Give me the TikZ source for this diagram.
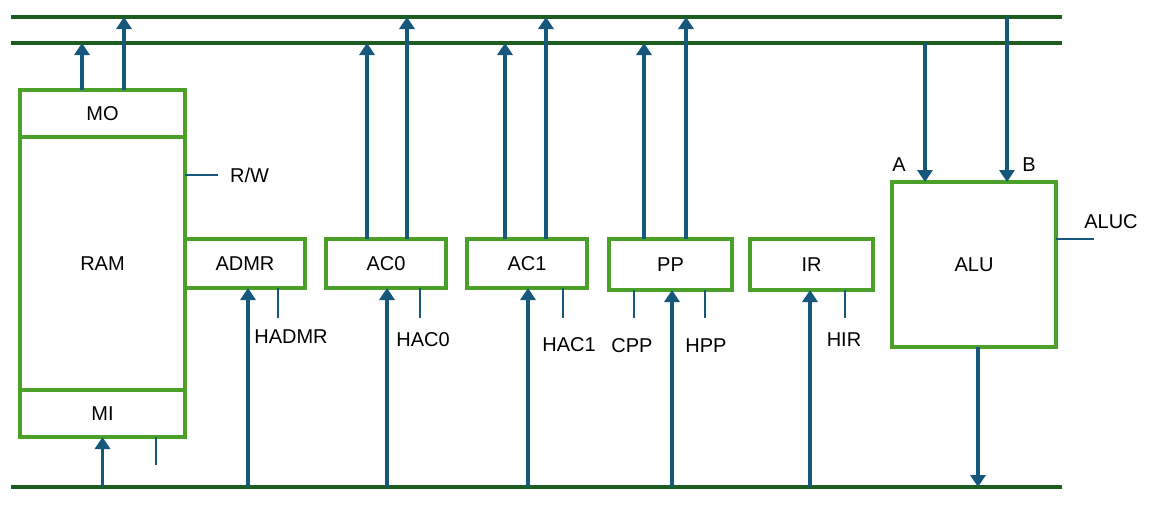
\documentclass[tikz,border=0pt]{standalone}
\usepackage{fontspec}
\setmainfont{Liberation Sans}
\usetikzlibrary{arrows.meta}
\usetikzlibrary{positioning}
\definecolor{busgreen}{HTML}{1D5E20}
\definecolor{boxgreen}{HTML}{4BA02A}
\definecolor{wireblue}{HTML}{15587B}
\tikzset{
  reg/.style={draw=boxgreen, line width=3.2pt, inner sep=0pt, outer sep=0pt,
    minimum width=120pt, minimum height=49pt, font=\fontsize{20}{23}\selectfont},
  bus/.style={draw=busgreen, line width=3.5pt},
  data/.style={draw=wireblue, line width=3.4pt, -{Triangle[length=12pt,width=15pt]}},
  ctrl/.style={draw=wireblue, line width=1.8pt},
  lbl/.style={font=\fontsize{20}{23}\selectfont, inner sep=0pt}
}
\begin{document}
\begin{tikzpicture}[x=1pt,y=-1pt]
  \useasboundingbox (0,0) rectangle (1149,509);
  % buses
  \coordinate (topL) at (11,17);  \coordinate (topR) at (1062,17);
  \coordinate (midL) at (11,43);  \coordinate (midR) at (1062,43);
  \coordinate (botL) at (11,487); \coordinate (botR) at (1062,487);
  \draw[bus] (topL) -- (topR);
  \draw[bus] (midL) -- (midR);
  \draw[bus] (botL) -- (botR);
  % memory
  \node[reg, minimum width=165pt, minimum height=47pt] (mo) at (102.5,113.5) {MO};
  \node[reg, minimum width=165pt, minimum height=253pt, below=0pt of mo] (ram) {RAM};
  \node[reg, minimum width=165pt, minimum height=47pt, below=0pt of ram] (mi) {MI};
  % registers
  \node[reg] (admr) at (245,263.5) {ADMR};
  \node[reg] (ac0) at (386,263.5) {AC0};
  \node[reg] (ac1) at (527,263.5) {AC1};
  \node[reg, minimum width=123pt, minimum height=51pt] (pp) at (670.5,264.5) {PP};
  \node[reg, minimum width=123pt, minimum height=51pt] (ir) at (811.5,264.5) {IR};
  \node[reg, minimum width=164pt, minimum height=165pt] (alu) at (974,264.5) {ALU};
  % outputs to the upper buses
  \draw[data] ([xshift=-20.5pt]mo.north) -- ([xshift=-20.5pt]mo.north |- midL);
  \draw[data] ([xshift=21.5pt]mo.north) -- ([xshift=21.5pt]mo.north |- topL);
  \draw[data] ([xshift=-19pt]ac0.north) -- ([xshift=-19pt]ac0.north |- midL);
  \draw[data] ([xshift=21pt]ac0.north) -- ([xshift=21pt]ac0.north |- topL);
  \draw[data] ([xshift=-22pt]ac1.north) -- ([xshift=-22pt]ac1.north |- midL);
  \draw[data] ([xshift=19pt]ac1.north) -- ([xshift=19pt]ac1.north |- topL);
  \draw[data] ([xshift=-26.5pt]pp.north) -- ([xshift=-26.5pt]pp.north |- midL);
  \draw[data] ([xshift=15.5pt]pp.north) -- ([xshift=15.5pt]pp.north |- topL);
  % ALU inputs and output
  \draw[data] ([xshift=-49pt]alu.north |- midL) -- ([xshift=-49pt]alu.north);
  \draw[data] ([xshift=33pt]alu.north |- topL) -- ([xshift=33pt]alu.north);
  \draw[data] ([xshift=4pt]alu.south) -- ([xshift=4pt]alu.south |- botL);
  % inputs from the lower bus
  \draw[data] (mi.south |- botL) -- (mi.south);
  \draw[data] ([xshift=3pt]admr.south |- botL) -- ([xshift=3pt]admr.south);
  \draw[data] ([xshift=1pt]ac0.south |- botL) -- ([xshift=1pt]ac0.south);
  \draw[data] ([xshift=1pt]ac1.south |- botL) -- ([xshift=1pt]ac1.south);
  \draw[data] ([xshift=1.5pt]pp.south |- botL) -- ([xshift=1.5pt]pp.south);
  \draw[data] ([xshift=-1.5pt]ir.south |- botL) -- ([xshift=-1.5pt]ir.south);
  % control lines
  \coordinate (rw) at (218,175);
  \draw[ctrl] (ram.east |- rw) -- (rw);
  \node[lbl, anchor=west] (rwlbl) at (230,175) {R/W};
  \coordinate (mitick) at (156,465);
  \draw[ctrl] (mi.south -| mitick) -- (mitick);
  \coordinate (hadmr) at (278,318);
  \draw[ctrl] (admr.south -| hadmr) -- (hadmr);
  \node[lbl] (hadmrlbl) at (291,337) {HADMR};
  \coordinate (hac0) at (420,318);
  \draw[ctrl] (ac0.south -| hac0) -- (hac0);
  \node[lbl] (hac0lbl) at (423,340) {HAC0};
  \coordinate (hac1) at (563,318);
  \draw[ctrl] (ac1.south -| hac1) -- (hac1);
  \node[lbl] (hac1lbl) at (569,345) {HAC1};
  \coordinate (cpp) at (634,318);
  \draw[ctrl] (pp.south -| cpp) -- (cpp);
  \node[lbl] (cpplbl) at (632,346) {CPP};
  \coordinate (hpp) at (705,318);
  \draw[ctrl] (pp.south -| hpp) -- (hpp);
  \node[lbl] (hpplbl) at (706,346) {HPP};
  \coordinate (hir) at (845,318);
  \draw[ctrl] (ir.south -| hir) -- (hir);
  \node[lbl] (hirlbl) at (844,340) {HIR};
  \coordinate (aluc) at (1094,239);
  \draw[ctrl] (alu.east |- aluc) -- (aluc);
  \node[lbl] (aluclbl) at (1111,222) {ALUC};
  \node[lbl] (alua) at (899,165) {A};
  \node[lbl] (alub) at (1029,165) {B};
\end{tikzpicture}
\end{document}
